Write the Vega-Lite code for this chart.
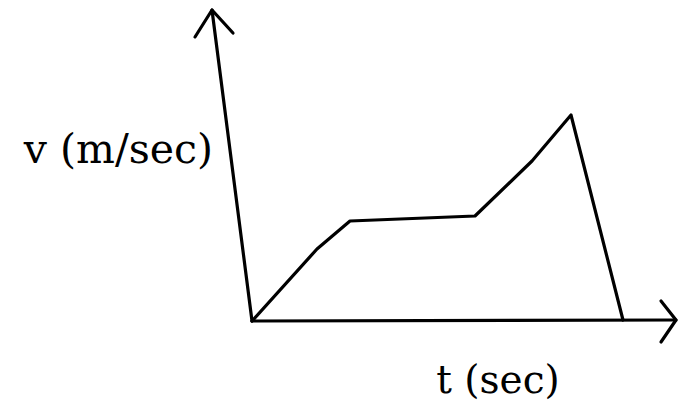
{
  "$schema": "https://vega.github.io/schema/vega-lite/v6.json",
  "width": 678,
  "height": 402,
  "padding": 0,
  "autosize": {"type": "fit", "contains": "padding"},
  "background": "white",
  "config": {"view": {"stroke": null}},
  "layer": [
    {
      "data": {
        "values": [
          {"seg": "curve", "i": 0, "t": 0, "v": 0},
          {"seg": "curve", "i": 1, "t": 65, "v": 72},
          {"seg": "curve", "i": 2, "t": 98, "v": 100},
          {"seg": "curve", "i": 3, "t": 223, "v": 105},
          {"seg": "curve", "i": 4, "t": 280, "v": 160},
          {"seg": "curve", "i": 5, "t": 319, "v": 206},
          {"seg": "curve", "i": 6, "t": 371, "v": 1},
          {"seg": "yaxis", "i": 0, "t": 0, "v": 0},
          {"seg": "yaxis", "i": 1, "t": -40, "v": 311},
          {"seg": "yarrow", "i": 0, "t": -57, "v": 284},
          {"seg": "yarrow", "i": 1, "t": -40, "v": 311},
          {"seg": "yarrow", "i": 2, "t": -19, "v": 288},
          {"seg": "xaxis", "i": 0, "t": 0, "v": 0},
          {"seg": "xaxis", "i": 1, "t": 424, "v": 1},
          {"seg": "xarrow", "i": 0, "t": 409, "v": 20},
          {"seg": "xarrow", "i": 1, "t": 424, "v": 1},
          {"seg": "xarrow", "i": 2, "t": 409, "v": -21}
        ]
      },
      "mark": {"type": "line", "color": "black", "strokeWidth": 3.2, "strokeCap": "round", "strokeJoin": "round", "clip": false},
      "encoding": {
        "x": {"field": "t", "type": "quantitative", "scale": {"domain": [-252, 426], "nice": false, "zero": false}, "axis": null},
        "y": {"field": "v", "type": "quantitative", "scale": {"domain": [-81, 321], "nice": false, "zero": false}, "axis": null},
        "detail": {"field": "seg"},
        "order": {"field": "i"}
      }
    },
    {
      "data": {"values": [{"label": "v (m/sec)", "t": -39, "v": 158}]},
      "mark": {"type": "text", "font": "DejaVu Serif", "fontSize": 41, "color": "black", "baseline": "alphabetic", "align": "right"},
      "encoding": {
        "x": {"field": "t", "type": "quantitative"},
        "y": {"field": "v", "type": "quantitative"},
        "text": {"field": "label"}
      }
    },
    {
      "data": {"values": [{"label": "t (sec)", "t": 246, "v": -72}]},
      "mark": {"type": "text", "font": "DejaVu Serif", "fontSize": 39, "color": "black", "baseline": "alphabetic", "align": "center"},
      "encoding": {
        "x": {"field": "t", "type": "quantitative"},
        "y": {"field": "v", "type": "quantitative"},
        "text": {"field": "label"}
      }
    }
  ]
}
